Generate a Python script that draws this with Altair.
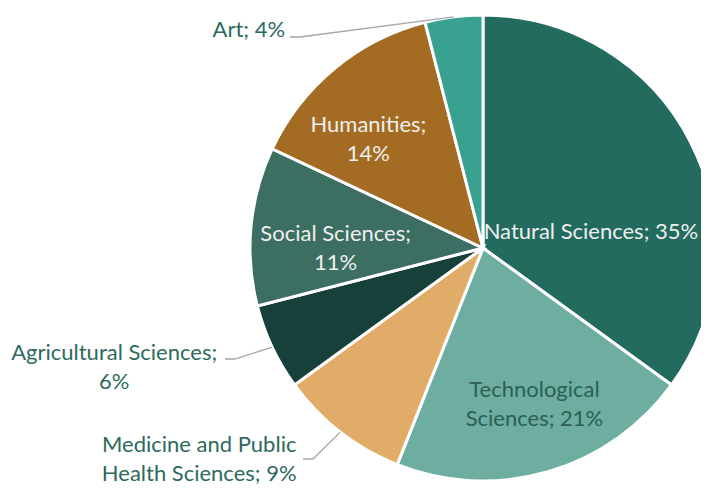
import altair as alt
import numpy as np
import pandas as pd

# ---- data -------------------------------------------------------------
categories = [
    "Natural Sciences",
    "Technological Sciences",
    "Medicine and Public Health Sciences",
    "Agricultural Sciences",
    "Social Sciences",
    "Humanities",
    "Art",
]
shares = [35, 21, 9, 6, 11, 14, 4]
label_texts = [
    "Natural Sciences; 35%",
    "Technological\nSciences; 21%",
    "Medicine and Public\nHealth Sciences; 9%",
    "Agricultural Sciences;\n6%",
    "Social Sciences;\n11%",
    "Humanities;\n14%",
    "Art; 4%",
]
slice_colors = ["#246B5F", "#6DAEA0", "#E1AC68", "#17403A", "#3C6E62", "#A46C23", "#38A190"]

# ---- layout -----------------------------------------------------------
W, H = 693, 479
CX, CY, R = 475, 240, 233
FONT = "Lato"
FS = 22
LH = 29
LIGHT = "#EEEEEE"
DARK = "#2E6A5D"
TECH = "#2C5F55"
GRAY = "#A6A6A6"

# per-label: radius along mid-angle, dx, dy (to block centre), colour
label_layout = {
    "Natural Sciences": (120, 1, 38, LIGHT),
    "Technological Sciences": (163, 6, 0, TECH),
    "Medicine and Public Health Sciences": (233, -141, 27, DARK),
    "Agricultural Sciences": (233, -158, 20, DARK),
    "Social Sciences": (148, 0, 14, LIGHT),
    "Humanities": (150, -19, 7, LIGHT),
    "Art": (233, -205, 13, DARK),
}
# leader-line elbows relative to the pie centre (outside labels only)
leader_elbows = {
    "Art": (-183, -211),
    "Agricultural Sciences": (-248, 111),
    "Medicine and Public Health Sciences": (-170, 211),
}

df = pd.DataFrame(
    {
        "category": categories,
        "share": shares,
        "idx": list(range(len(categories))),
        "label": label_texts,
    }
)

# leader lines: end point on the rim at each slice's mid angle
cum = np.cumsum(shares)
mids = cum - np.array(shares) / 2.0
rows = []
for cat, m in zip(categories, mids):
    if cat not in leader_elbows:
        continue
    ang = m / 100.0 * 2 * np.pi
    ex, ey = CX + R * np.sin(ang), CY - R * np.cos(ang)
    kx, ky = CX + leader_elbows[cat][0], CY + leader_elbows[cat][1]
    rows += [
        {"category": cat, "o": 0, "px": kx - 10, "py": ky},
        {"category": cat, "o": 1, "px": kx, "py": ky},
        {"category": cat, "o": 2, "px": ex, "py": ey},
    ]
leaders_df = pd.DataFrame(rows)

theta_scale = alt.Scale(domain=[0, 100])

base = (
    alt.Chart(df)
    .transform_window(cum="sum(share)", sort=[alt.SortField("idx")], frame=[None, 0])
    .transform_calculate(start="datum.cum - datum.share", mid="datum.cum - datum.share / 2")
)

pie = base.mark_arc(outerRadius=R, stroke="white", strokeWidth=3).encode(
    theta=alt.Theta("start:Q", scale=theta_scale),
    theta2="cum:Q",
    color=alt.Color(
        "category:N",
        scale=alt.Scale(domain=categories, range=slice_colors),
        legend=None,
    ),
    x=alt.value(CX),
    y=alt.value(CY),
)

text_layers = []
for cat, txt in zip(categories, label_texts):
    r, dx, dy, col = label_layout[cat]
    nlines = txt.count("\n") + 1
    t = (
        base.transform_filter(alt.datum.category == cat)
        .mark_text(
            radius=r,
            dx=dx,
            dy=dy - (nlines - 1) * LH / 2.0,
            font=FONT,
            fontSize=FS,
            lineHeight=LH,
            lineBreak="\n",
            align="center",
            baseline="middle",
            color=col,
        )
        .encode(
            theta=alt.Theta("mid:Q", scale=theta_scale),
            text="label:N",
            x=alt.value(CX),
            y=alt.value(CY),
        )
    )
    text_layers.append(t)

leaders = (
    alt.Chart(leaders_df)
    .mark_line(color=GRAY, strokeWidth=1.3)
    .encode(
        x=alt.X("px:Q", scale=alt.Scale(domain=[0, W], range=[0, W], nice=False, zero=False), axis=None),
        y=alt.Y("py:Q", scale=alt.Scale(domain=[0, H], range=[0, H], nice=False, zero=False), axis=None),
        detail="category:N",
        order="o:Q",
    )
)

chart = (
    alt.layer(pie, leaders, *text_layers)
    .properties(width=W, height=H, padding=0, autosize=alt.AutoSizeParams(type="none"))
    .configure_view(stroke=None)
)

chart.save("out.html", embed_options={"renderer": "svg", "actions": False})
